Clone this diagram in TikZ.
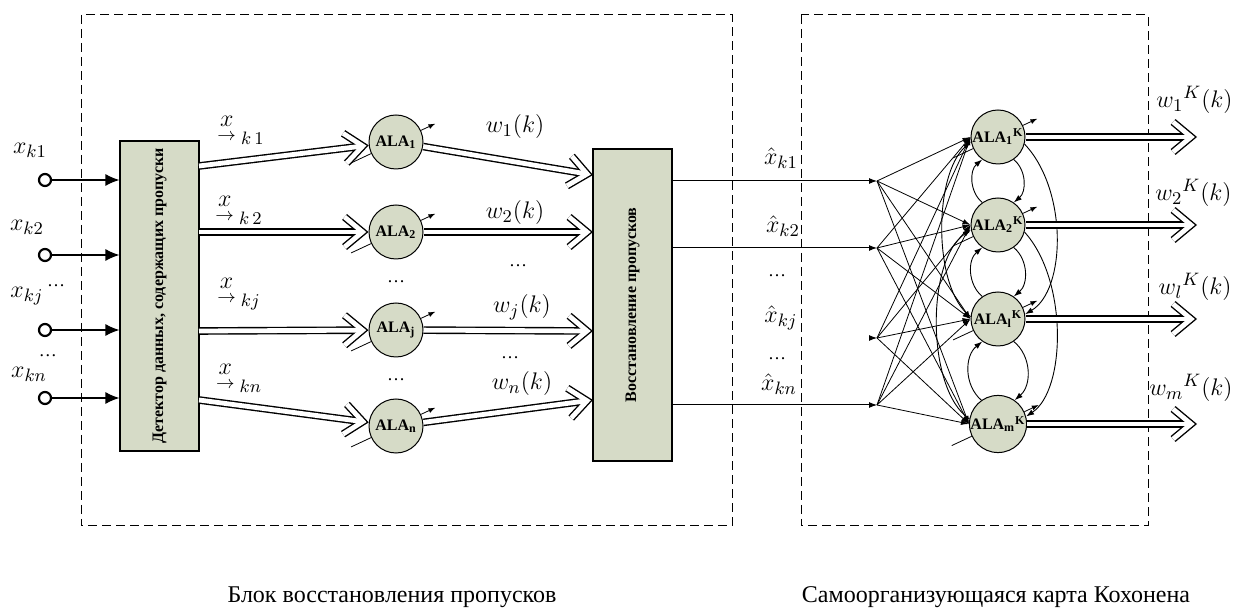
\documentclass[tikz,border=0pt]{standalone}
\usepackage{fontspec}
\setmainfont{Liberation Serif}
\usepackage{amsmath}
\usetikzlibrary{arrows.meta}
\definecolor{blockfill}{RGB}{214,219,199}
\tikzstyle{zone} = [draw,dash pattern=on 4.5pt off 2.5pt,line width=0.5pt]
\tikzstyle{block} = [rectangle,draw,fill=blockfill,line width=0.6pt,inner sep=0pt]
\tikzstyle{blocktext} = [rotate=90,font=\bfseries\fontsize{8}{9}\selectfont]
\tikzstyle{neuron} = [circle,draw,fill=blockfill,minimum size=27pt,inner sep=0pt,line width=0.5pt,font=\bfseries\fontsize{8}{9}\selectfont]
\tikzstyle{port} = [circle,draw,line width=1.1pt,minimum size=6pt,inner sep=0pt]
\tikzstyle{feed} = [line width=0.6pt,-{Latex[length=7pt,width=6pt]}]
\tikzstyle{wide} = [line width=3.8pt,-{Straight Barb[length=9pt,width=15pt]},
    postaction={draw=white,line width=2.4pt,shorten >=1.1pt,-{Straight Barb[length=9pt,width=15pt]}}]
\tikzstyle{sig} = [line width=0.5pt,-{Latex[length=4pt,width=3pt]}]
\tikzstyle{fan} = [line width=0.4pt,-{Latex[length=4pt,width=2.6pt]}]
\tikzstyle{tune} = [line width=0.4pt,-{Latex[length=3.5pt,width=2.5pt]}]
\tikzstyle{lat} = [line width=0.45pt,-{Latex[length=4pt,width=2.8pt]}]
\tikzstyle{lbl} = [font=\fontsize{13}{15}\selectfont,inner sep=1pt]
\tikzstyle{dotsym} = [font=\fontsize{9}{10}\selectfont,inner sep=0pt]
\begin{document}
\begin{tikzpicture}[x=0.5pt,y=-0.5pt]
    \useasboundingbox (0,0) rectangle (1236,608);

    % two dashed areas
    \draw[zone] (81,15) rectangle (732,526);
    \draw[zone] (801,15) rectangle (1148,526);

    % blocks
    \node (det) [block,minimum width=39.5pt,minimum height=155pt] at (159.5,296) {};
    \node (dettext) [blocktext] at (det) {Детектор данных, содержащих пропуски};
    \node (rec) [block,minimum width=39.5pt,minimum height=156pt] at (632.5,305) {};
    \node (rectext) [blocktext] at (rec) {Восстановление пропусков};

    % inputs
    \foreach \n/\y in {1/180,2/255,3/330,4/398} {
        \node (in\n) [port] at (45,\y) {};
        \draw [feed] (in\n) -- (in\n -| det.west);
    }
    \node (lx1) [lbl] at (30,150) {$x_{k1}$};
    \node (lx2) [lbl] at (27,227) {$x_{k2}$};
    \node (lx3) [lbl] at (27,296) {$x_{kj}$};
    \node (lx4) [lbl] at (29,374) {$x_{kn}$};
    \node (ld1) [dotsym] at (56,286) {\dots};
    \node (ld2) [dotsym] at (48,356) {\dots};

    % neurons of the restoring block
    \node (a1) [neuron] at (396,142) {ALA$_{\mathbf{1}}$};
    \node (a2) [neuron] at (396,232) {ALA$_{\mathbf{2}}$};
    \node (a3) [neuron] at (396,330) {ALA$_{\mathbf{j}}$};
    \node (a4) [neuron] at (396,426) {ALA$_{\mathbf{n}}$};
    \node (ad1) [dotsym] at (396,282) {\dots};
    \node (ad2) [dotsym] at (396,380) {\dots};

    \coordinate (d1) at (199,166);
    \coordinate (d2) at (199,232);
    \coordinate (d3) at (199,331);
    \coordinate (d4) at (199,400);
    \coordinate (r1) at (593,175);
    \coordinate (r2) at (593,232);
    \coordinate (r3) at (593,331);
    \coordinate (r4) at (593,400);
    \foreach \n in {1,...,4} {
        \draw [wide] (d\n) -- (a\n);
        \draw [wide] (a\n) -- (r\n);
    }
    \node (lu1) [lbl] at (241,130) {$\underset{\rightarrow}{x}_{\;k\,1}$};
    \node (lu2) [lbl] at (239,210) {$\underset{\rightarrow}{x}_{\;k\,2}$};
    \node (lu3) [lbl] at (239,294) {$\underset{\rightarrow}{x}_{\;kj}$};
    \node (lu4) [lbl] at (239,378) {$\underset{\rightarrow}{x}_{\;kn}$};
    \node (lw1) [lbl] at (515,127) {$w_1(k)$};
    \node (lw2) [lbl] at (515,213) {$w_2(k)$};
    \node (lw3) [lbl] at (522,307) {$w_j(k)$};
    \node (lw4) [lbl] at (522,384) {$w_n(k)$};
    \node (wd1) [dotsym] at (518,266) {\dots};
    \node (wd2) [dotsym] at (510,358) {\dots};

    % restored values
    \coordinate (p1) at (877,181);
    \coordinate (p2) at (877,248);
    \coordinate (p3) at (877,338);
    \coordinate (p4) at (877,405);
    \draw [sig] (rec.east |- p1) -- (p1);
    \draw [sig] (rec.east |- p2) -- (p2);
    \draw [sig] ([xshift=-4pt]p3) -- (p3);
    \draw [sig] (rec.east |- p4) -- (p4);
    \node (lh1) [lbl] at (781,158) {$\hat{x}_{k1}$};
    \node (lh2) [lbl] at (783,226) {$\hat{x}_{k2}$};
    \node (lh3) [lbl] at (781,318) {$\hat{x}_{kj}$};
    \node (lh4) [lbl] at (779,384) {$\hat{x}_{kn}$};
    \node (hd1) [dotsym] at (777,276) {\dots};
    \node (hd2) [dotsym] at (777,359) {\dots};

    % Kohonen map
    \node (k1) [neuron] at (998,137) {ALA$_{\mathbf{1}}{}^{\mathbf{K}}$};
    \node (k2) [neuron] at (998,225) {ALA$_{\mathbf{2}}{}^{\mathbf{K}}$};
    \node (k3) [neuron] at (998,319) {ALA$_{\mathbf{l}}{}^{\mathbf{K}}$};
    \node (k4) [neuron] at (998,424) {ALA$_{\mathbf{m}}{}^{\mathbf{K}}$};
    \foreach \i in {1,...,4}
        \foreach \j in {1,...,4}
            \draw [fan] (p\i) -- (k\j.west);
    \foreach \u/\l in {k1/k2,k2/k3,k3/k4} {
        \draw [lat] (\l.125) to[bend left=50] (\u.235);
        \draw [lat] (\u.-55) to[bend left=50] (\l.55);
    }
    \draw [lat] (k1.-15) .. controls (1068,190) and (1066,290) .. (k3.10);
    \draw [lat] (k2.-15) .. controls (1068,280) and (1066,390) .. (k4.15);
    \draw [lat] (k3.175) .. controls (933,290) and (933,175) .. (k1.190);
    \draw [lat] (k4.170) .. controls (926,390) and (926,260) .. (k2.190);

    % adjustable weights
    \foreach \c in {a1,a2,a3,a4,k1,k2,k3,k4} {
        \draw [tune] (\c.25) -- ++(25:8pt);
        \draw [line width=0.4pt] (\c.205) -- ++(205:11pt);
    }

    % outputs of the map
    \coordinate (edge) at (1197,0);
    \foreach \j in {1,...,4}
        \draw [wide] (k\j.east) -- (k\j.east -| edge);
    \node (lk1) [lbl,anchor=east] at (1235,100) {$w_1{}^{K}(k)$};
    \node (lk2) [lbl,anchor=east] at (1234,193) {$w_2{}^{K}(k)$};
    \node (lk3) [lbl,anchor=east] at (1234,287) {$w_l{}^{K}(k)$};
    \node (lk4) [lbl,anchor=east] at (1235,388) {$w_m{}^{K}(k)$};

    % captions
    \node (capa) [font=\fontsize{12}{14}\selectfont] at (392,597) {Блок восстановления пропусков};
    \node (capb) [font=\fontsize{12}{14}\selectfont] at (996,597) {Самоорганизующаяся карта Кохонена};
\end{tikzpicture}
\end{document}
